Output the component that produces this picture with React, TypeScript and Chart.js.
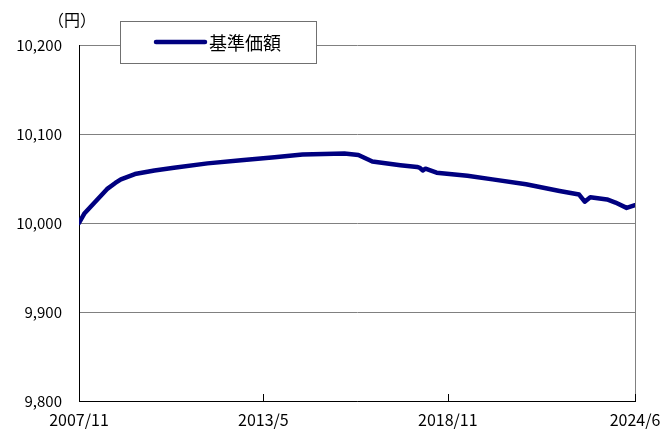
import React, { useEffect, useRef } from "react";
import { Chart, registerables } from "chart.js";

Chart.register(...registerables);

const seriesName = "基準価額";
const unitLabel = "（円）";

const dates = [
  "2007/11", "2008/1", "2008/9", "2008/12", "2009/2", "2009/7", "2010/2", "2010/9",
  "2011/9", "2012/9", "2013/9", "2014/7", "2015/10", "2016/3", "2016/8", "2017/6",
  "2017/12", "2018/1", "2018/2", "2018/3", "2018/7", "2019/6", "2020/3", "2021/3",
  "2022/3", "2022/10", "2022/12", "2023/2", "2023/8", "2023/11", "2024/3", "2024/6",
];

const navValues = [
  10000, 10011, 10038, 10045, 10049, 10055, 10059, 10062,
  10067, 10070.5, 10074, 10077, 10078, 10076.5, 10069, 10065,
  10063, 10062, 10059, 10061, 10056.5, 10053, 10049, 10043.5,
  10036, 10032, 10024, 10029, 10026.5, 10023, 10017, 10020,
];

const xTickLabels = ["2007/11", "2013/5", "2018/11", "2024/6"];
const yTicks = [9800, 9900, 10000, 10100, 10200];

const START = "2007/11";
function monthIndex(s: string): number {
  const [y, m] = s.split("/").map(Number);
  const [y0, m0] = START.split("/").map(Number);
  return (y - y0) * 12 + (m - m0);
}

const FONT = "'Noto Sans CJK JP', 'Noto Sans', sans-serif";

const framePlugin = {
  id: "frame",
  afterDraw(chart: any) {
    const { ctx, chartArea, scales } = chart;
    const { left, right, top, bottom } = chartArea;
    ctx.save();
    ctx.strokeStyle = "#808080";
    ctx.lineWidth = 1;
    ctx.beginPath();
    ctx.moveTo(Math.round(right) + 0.5, top);
    ctx.lineTo(Math.round(right) + 0.5, bottom);
    ctx.stroke();
    ctx.strokeStyle = "#000000";
    const xs = scales.x;
    xTickLabels.forEach((lab) => {
      const px = Math.round(xs.getPixelForValue(monthIndex(lab))) + 0.5;
      ctx.beginPath();
      ctx.moveTo(px, bottom);
      ctx.lineTo(px, bottom - 7);
      ctx.stroke();
    });
    const bx = left + 41;
    const by = top - 24;
    const bw = 196;
    const bh = 42;
    ctx.fillStyle = "#ffffff";
    ctx.fillRect(bx, by, bw, bh);
    ctx.strokeStyle = "#707070";
    ctx.strokeRect(bx + 0.5, by + 0.5, bw, bh);
    ctx.strokeStyle = "#000080";
    ctx.lineWidth = 4.5;
    ctx.lineCap = "round";
    ctx.beginPath();
    ctx.moveTo(bx + 36, by + 21);
    ctx.lineTo(bx + 85, by + 21);
    ctx.stroke();
    ctx.fillStyle = "#000000";
    ctx.font = `18px ${FONT}`;
    ctx.textBaseline = "middle";
    ctx.textAlign = "left";
    ctx.fillText(seriesName, bx + 89, by + 22);
    ctx.font = `16px ${FONT}`;
    ctx.textAlign = "center";
    ctx.fillText(unitLabel, left - 7, top - 25);
    ctx.restore();
  },
};

export default function App() {
  const ref = useRef<HTMLCanvasElement | null>(null);
  useEffect(() => {
    if (!ref.current) return;
    const data = dates.map((d, i) => ({ x: monthIndex(d), y: navValues[i] }));
    const chart = new Chart(ref.current, {
      type: "line",
      data: {
        datasets: [
          {
            label: seriesName,
            data,
            borderColor: "#000080",
            borderWidth: 4.5,
            pointRadius: 0,
            tension: 0,
            borderJoinStyle: "round",
            borderCapStyle: "round",
          },
        ],
      },
      options: {
        animation: false,
        responsive: false,
        maintainAspectRatio: false,
        layout: { padding: { left: 0, right: 30, top: 45, bottom: 0 } },
        plugins: { legend: { display: false }, tooltip: { enabled: false } },
        scales: {
          x: {
            type: "linear",
            min: monthIndex(xTickLabels[0]),
            max: monthIndex(xTickLabels[xTickLabels.length - 1]),
            afterBuildTicks: (scale: any) => {
              scale.ticks = xTickLabels.map((l) => ({ value: monthIndex(l) }));
            },
            afterFit: (scale: any) => {
              scale.height = 29;
              scale.paddingLeft = 0;
              scale.paddingRight = 0;
            },
            grid: { display: false, drawTicks: false },
            border: { display: true, color: "#000000", width: 1 },
            ticks: {
              autoSkip: false,
              maxRotation: 0,
              padding: 9,
              color: "#000000",
              font: { family: FONT, size: 16 },
              callback: (v: any) => {
                const lab = xTickLabels.find((l) => monthIndex(l) === v);
                return lab ?? "";
              },
            },
          },
          y: {
            min: yTicks[0],
            max: yTicks[yTicks.length - 1],
            afterBuildTicks: (scale: any) => {
              scale.ticks = yTicks.map((v) => ({ value: v }));
            },
            afterFit: (scale: any) => {
              scale.width = 79;
              scale.paddingTop = 0;
              scale.paddingBottom = 0;
            },
            grid: { color: "#808080", lineWidth: 1, drawTicks: false },
            border: { display: true, color: "#000000", width: 1 },
            ticks: {
              padding: 17,
              color: "#000000",
              font: { family: FONT, size: 15 },
              callback: (v: any) => Number(v).toLocaleString("en-US"),
            },
          },
        },
      },
      plugins: [framePlugin],
    });
    return () => chart.destroy();
  }, []);
  return (
    <div style={{ position: "fixed", left: 0, top: 0, width: 665, height: 430, background: "#fff" }}>
      <canvas ref={ref} width={665} height={430} style={{ width: 665, height: 430 }} />
    </div>
  );
}
